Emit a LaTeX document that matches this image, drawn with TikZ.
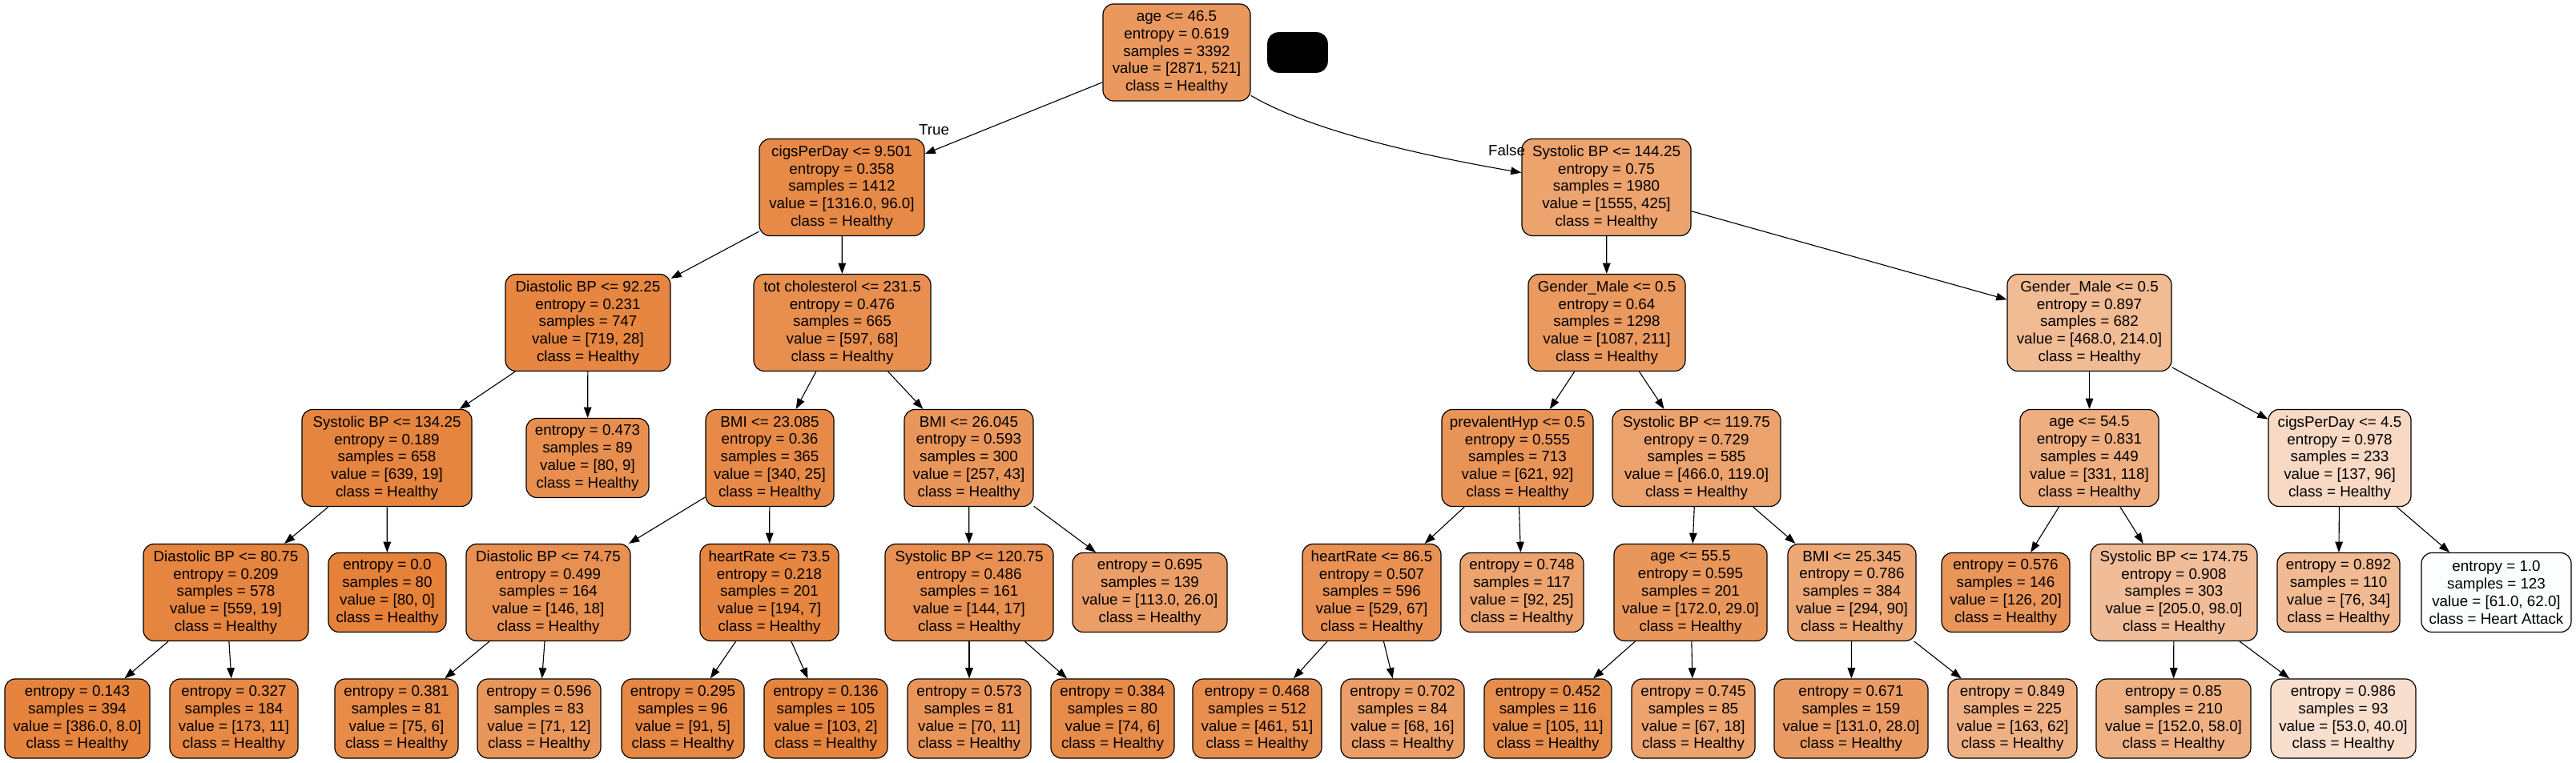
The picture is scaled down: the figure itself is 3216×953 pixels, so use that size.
\documentclass[tikz,border=0pt]{standalone}
\usepackage{fontspec}
\setmainfont{Liberation Sans}
\usetikzlibrary{arrows.meta}
\definecolor{hc}{RGB}{229,129,57}
\definecolor{ac}{RGB}{57,157,229}
\begin{document}
\begin{tikzpicture}[x=0.25pt,y=-0.25pt,
 box/.style={draw=black, line width=0.3pt, rounded corners=3.3pt, align=center, inner sep=0pt, font=\fontsize{4.7pt}{5.45pt}\selectfont},
 inode/.style={box, minimum height=30.25pt},
 lnode/.style={box, minimum height=24.75pt},
 mw/.style={minimum width=#1pt},
 hf/.style={fill=hc!#1!white},
 arr/.style={-{Triangle[length=3.3pt,width=2.4pt]}, line width=0.28pt, black},
 lab/.style={font=\fontsize{4.7pt}{5.45pt}\selectfont, inner sep=0pt}]
\fill[white] (0,0) rectangle (3216,953);
\useasboundingbox (0,0) rectangle (3216,953);

% row 1
\node[inode, mw=46, hf=82] (n0) at (1469,65.5) {age <= 46.5\\entropy = 0.619\\samples = 3392\\value = [2871, 521]\\class = Healthy};
\node[draw=black, fill=black, rounded corners=3.3pt, minimum width=18.5pt, minimum height=12.25pt, inner sep=0pt] (blk) at (1620,65.5) {};

% row 2
\node[inode, mw=51.5, hf=93] (n1) at (1051,234) {cigsPerDay <= 9.501\\entropy = 0.358\\samples = 1412\\value = [1316.0, 96.0]\\class = Healthy};
\node[inode, mw=52.75, hf=73] (n2) at (2005.5,234) {Systolic BP <= 144.25\\entropy = 0.75\\samples = 1980\\value = [1555, 425]\\class = Healthy};

% row 3
\node[inode, mw=51.5, hf=96] (n3) at (734,403) {Diastolic BP <= 92.25\\entropy = 0.231\\samples = 747\\value = [719, 28]\\class = Healthy};
\node[inode, mw=55.25, hf=89] (n4) at (1051.5,403) {tot cholesterol <= 231.5\\entropy = 0.476\\samples = 665\\value = [597, 68]\\class = Healthy};
\node[inode, mw=49, hf=81] (n5) at (2006,403) {Gender\_Male <= 0.5\\entropy = 0.64\\samples = 1298\\value = [1087, 211]\\class = Healthy};
\node[inode, mw=51.25, hf=54] (n6) at (2608.5,403) {Gender\_Male <= 0.5\\entropy = 0.897\\samples = 682\\value = [468.0, 214.0]\\class = Healthy};

% row 4
\node[inode, mw=53, hf=97] (n7) at (483,572) {Systolic BP <= 134.25\\entropy = 0.189\\samples = 658\\value = [639, 19]\\class = Healthy};
\node[lnode, mw=38.25, hf=89] (n8) at (733.5,572) {entropy = 0.473\\samples = 89\\value = [80, 9]\\class = Healthy};
\node[inode, mw=40, hf=93] (n9) at (961,572) {BMI <= 23.085\\entropy = 0.36\\samples = 365\\value = [340, 25]\\class = Healthy};
\node[inode, mw=40.25, hf=83] (n10) at (1209.5,572) {BMI <= 26.045\\entropy = 0.593\\samples = 300\\value = [257, 43]\\class = Healthy};
\node[inode, mw=47.25, hf=85] (n11) at (1894.5,572) {prevalentHyp <= 0.5\\entropy = 0.555\\samples = 713\\value = [621, 92]\\class = Healthy};
\node[inode, mw=52.5, hf=74] (n12) at (2118,572) {Systolic BP <= 119.75\\entropy = 0.729\\samples = 585\\value = [466.0, 119.0]\\class = Healthy};
\node[inode, mw=43.25, hf=64] (n13) at (2608.5,572) {age <= 54.5\\entropy = 0.831\\samples = 449\\value = [331, 118]\\class = Healthy};
\node[inode, mw=44.5, hf=30] (n14) at (2921,572) {cigsPerDay <= 4.5\\entropy = 0.978\\samples = 233\\value = [137, 96]\\class = Healthy};

% row 5
\node[inode, mw=51.5, hf=97] (n15) at (282,740) {Diastolic BP <= 80.75\\entropy = 0.209\\samples = 578\\value = [559, 19]\\class = Healthy};
\node[lnode, mw=36.75, hf=100] (n16) at (483.5,740) {entropy = 0.0\\samples = 80\\value = [80, 0]\\class = Healthy};
\node[inode, mw=51.25, hf=88] (n17) at (684.5,740) {Diastolic BP <= 74.75\\entropy = 0.499\\samples = 164\\value = [146, 18]\\class = Healthy};
\node[inode, mw=43.25, hf=96] (n18) at (960.5,740) {heartRate <= 73.5\\entropy = 0.218\\samples = 201\\value = [194, 7]\\class = Healthy};
\node[inode, mw=52.5, hf=88] (n19) at (1210,740) {Systolic BP <= 120.75\\entropy = 0.486\\samples = 161\\value = [144, 17]\\class = Healthy};
\node[lnode, mw=48.25, hf=77] (n20) at (1435.5,740) {entropy = 0.695\\samples = 139\\value = [113.0, 26.0]\\class = Healthy};
\node[inode, mw=43.25, hf=87] (n21) at (1712.5,740) {heartRate <= 86.5\\entropy = 0.507\\samples = 596\\value = [529, 67]\\class = Healthy};
\node[lnode, mw=38.5, hf=73] (n22) at (1900,740) {entropy = 0.748\\samples = 117\\value = [92, 25]\\class = Healthy};
\node[inode, mw=47.75, hf=83] (n23) at (2110.5,740) {age <= 55.5\\entropy = 0.595\\samples = 201\\value = [172.0, 29.0]\\class = Healthy};
\node[inode, mw=40, hf=69] (n24) at (2312,740) {BMI <= 25.345\\entropy = 0.786\\samples = 384\\value = [294, 90]\\class = Healthy};
\node[lnode, mw=40, hf=84] (n25) at (2504,740) {entropy = 0.576\\samples = 146\\value = [126, 20]\\class = Healthy};
\node[inode, mw=52, hf=52] (n26) at (2714,740) {Systolic BP <= 174.75\\entropy = 0.908\\samples = 303\\value = [205.0, 98.0]\\class = Healthy};
\node[lnode, mw=38.25, hf=55] (n27) at (2919.5,740) {entropy = 0.892\\samples = 110\\value = [76, 34]\\class = Healthy};
\node[lnode, mw=46.75, fill=ac!2!white] (n28) at (3116.5,740) {entropy = 1.0\\samples = 123\\value = [61.0, 62.0]\\class = Heart Attack};

% row 6
\node[lnode, mw=45.25, hf=98] (n29) at (96.5,897.5) {entropy = 0.143\\samples = 394\\value = [386.0, 8.0]\\class = Healthy};
\node[lnode, mw=40, hf=94] (n30) at (292,897.5) {entropy = 0.327\\samples = 184\\value = [173, 11]\\class = Healthy};
\node[lnode, mw=38.5, hf=92] (n31) at (495,897.5) {entropy = 0.381\\samples = 81\\value = [75, 6]\\class = Healthy};
\node[lnode, mw=38.5, hf=83] (n32) at (673,897.5) {entropy = 0.596\\samples = 83\\value = [71, 12]\\class = Healthy};
\node[lnode, mw=38.25, hf=95] (n33) at (852.5,897.5) {entropy = 0.295\\samples = 96\\value = [91, 5]\\class = Healthy};
\node[lnode, mw=38.5, hf=98] (n34) at (1031,897.5) {entropy = 0.136\\samples = 105\\value = [103, 2]\\class = Healthy};
\node[lnode, mw=38.5, hf=84] (n35) at (1210,897.5) {entropy = 0.573\\samples = 81\\value = [70, 11]\\class = Healthy};
\node[lnode, mw=38.5, hf=92] (n36) at (1389,897.5) {entropy = 0.384\\samples = 80\\value = [74, 6]\\class = Healthy};
\node[lnode, mw=40.25, hf=89] (n37) at (1569.5,897.5) {entropy = 0.468\\samples = 512\\value = [461, 51]\\class = Healthy};
\node[lnode, mw=38.5, hf=77] (n38) at (1751,897.5) {entropy = 0.702\\samples = 84\\value = [68, 16]\\class = Healthy};
\node[lnode, mw=39.75, hf=90] (n39) at (1932.5,897.5) {entropy = 0.452\\samples = 116\\value = [105, 11]\\class = Healthy};
\node[lnode, mw=38.5, hf=73] (n40) at (2114,897.5) {entropy = 0.745\\samples = 85\\value = [67, 18]\\class = Healthy};
\node[lnode, mw=48, hf=79] (n41) at (2311,897.5) {entropy = 0.671\\samples = 159\\value = [131.0, 28.0]\\class = Healthy};
\node[lnode, mw=40.25, hf=62] (n42) at (2512.5,897.5) {entropy = 0.849\\samples = 225\\value = [163, 62]\\class = Healthy};
\node[lnode, mw=48.25, hf=62] (n43) at (2713.5,897.5) {entropy = 0.85\\samples = 210\\value = [152.0, 58.0]\\class = Healthy};
\node[lnode, mw=45.25, hf=25] (n44) at (2925.5,897.5) {entropy = 0.986\\samples = 93\\value = [53.0, 40.0]\\class = Healthy};

% edges
\draw[arr] (n0) -- (n1);
\draw[arr] (n0) .. controls (1640,165) and (1780,195) .. (n2);
\node[lab] (tlab) at (1166,162) {True};
\node[lab] (flab) at (1881,188) {False};

\foreach \a/\b in {n1/n3,n1/n4,n2/n5,n2/n6,
  n3/n7,n3/n8,n4/n9,n4/n10,n5/n11,n5/n12,n6/n13,n6/n14,
  n7/n15,n7/n16,n9/n17,n9/n18,n10/n19,n10/n20,n11/n21,n11/n22,n12/n23,n12/n24,n13/n25,n13/n26,n14/n27,n14/n28,
  n15/n29,n15/n30,n17/n31,n17/n32,n18/n33,n18/n34,n19/n35,n19/n36,n21/n37,n21/n38,n23/n39,n23/n40,n24/n41,n24/n42,n26/n43,n26/n44}
  {\draw[arr] (\a) -- (\b);}
\end{tikzpicture}
\end{document}
